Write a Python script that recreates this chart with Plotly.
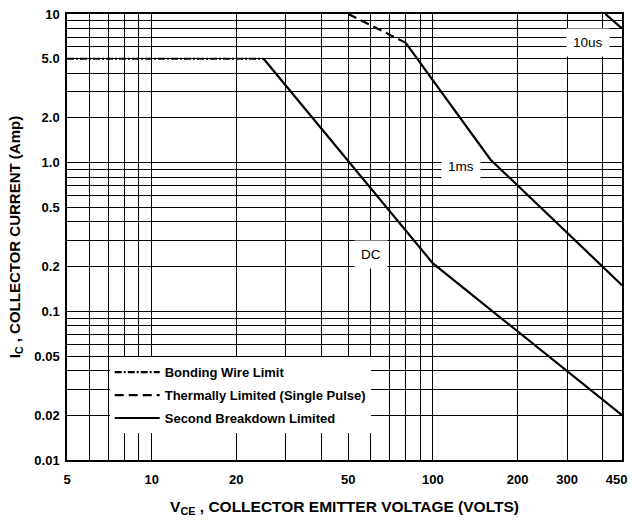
import numpy as np
import plotly.graph_objects as go

# ---- axis ticks / grid ----
x_tickvals = [5, 10, 20, 50, 100, 200, 300, 450]
x_ticktext = ["5", "10", "20", "50", "100", "200", "300", "450"]
x_gridvals = [6, 7, 8, 9, 10, 20, 30, 40, 50, 60, 70, 80, 90, 100, 200, 300, 400]
y_tickvals = [0.01, 0.02, 0.05, 0.1, 0.2, 0.5, 1, 2, 5, 10]
y_ticktext = ["0.01", "0.02", "0.05", "0.1", "0.2", "0.5", "1.0", "2.0", "5.0", "10"]
y_gridvals = [0.02, 0.03, 0.04, 0.05, 0.06, 0.07, 0.08, 0.09,
              0.1, 0.2, 0.3, 0.4, 0.5, 0.6, 0.7, 0.8, 0.9,
              1, 2, 3, 4, 5, 6, 7, 8, 9]

# ---- curves (V_CE in volts, I_C in amps) ----
dc_v = [5, 25, 100, 470]
dc_i = [5, 5, 0.21, 0.02]
ms1_v = [50, 80, 160, 470]
ms1_i = [10, 6.4, 1.05, 0.15]
us10_v = [410, 470]
us10_i = [10, 8.0]

# curve labels
label_text = ["DC", "1ms", "10us"]
label_v = [60, 126, 355]
label_i = [0.24, 0.94, 6.4]

SANS = "Liberation Sans, Arial, sans-serif"

fig = go.Figure()
lw = 2.2
fig.add_trace(go.Scatter(x=dc_v[:2], y=dc_i[:2], mode="lines", name="Bonding Wire Limit",
                         legendgroup="a",
                         line=dict(color="black", width=lw, dash="7px,2px,2px,2px")))
fig.add_trace(go.Scatter(x=ms1_v[:2], y=ms1_i[:2], mode="lines", name="Thermally Limited (Single Pulse)",
                         legendgroup="b",
                         line=dict(color="black", width=lw, dash="9px,5px")))
fig.add_trace(go.Scatter(x=dc_v[1:], y=dc_i[1:], mode="lines", name="Second Breakdown Limited",
                         legendgroup="c",
                         line=dict(color="black", width=lw)))
fig.add_trace(go.Scatter(x=ms1_v[1:], y=ms1_i[1:], mode="lines", showlegend=False,
                         legendgroup="c", line=dict(color="black", width=lw)))
fig.add_trace(go.Scatter(x=us10_v, y=us10_i, mode="lines", showlegend=False,
                         legendgroup="c", line=dict(color="black", width=lw)))

for t, v, i in zip(label_text, label_v, label_i):
    fig.add_annotation(x=np.log10(v), y=np.log10(i), text=t, showarrow=False,
                       font=dict(family=SANS, size=13.5, color="black"),
                       bgcolor="white", borderpad=6)

fig.update_xaxes(type="log", range=[np.log10(5), np.log10(470)],
                 tickmode="array", tickvals=x_tickvals, ticktext=x_ticktext,
                 showgrid=False, ticks="", ticklabelstandoff=7,
                 tickfont=dict(family=SANS, size=13, color="black", weight="bold"),
                 minor=dict(tickmode="array", tickvals=x_gridvals, showgrid=True,
                            gridcolor="black", gridwidth=1.1, ticks=""),
                 showline=True, linecolor="black", linewidth=1.5, mirror=True,
                 zeroline=False,
                 title=dict(text="V<sub>CE</sub> , COLLECTOR EMITTER VOLTAGE (VOLTS)",
                            font=dict(family=SANS, size=15.5, color="black", weight="bold"),
                            standoff=15))
fig.update_yaxes(type="log", range=[-2, 1],
                 tickmode="array", tickvals=y_tickvals, ticktext=y_ticktext,
                 showgrid=True, gridcolor="black", gridwidth=1.1, ticks="",
                 ticklabelstandoff=3,
                 tickfont=dict(family=SANS, size=13, color="black", weight="bold"),
                 minor=dict(tickmode="array", tickvals=y_gridvals, showgrid=True,
                            gridcolor="black", gridwidth=1.1, ticks=""),
                 showline=True, linecolor="black", linewidth=1.5, mirror=True,
                 zeroline=False,
                 title=dict(text="I<sub>C</sub> , COLLECTOR CURRENT (Amp)",
                            font=dict(family=SANS, size=15, color="black", weight="bold"),
                            standoff=10))

fig.update_layout(
    width=634, height=521,
    margin=dict(l=67, r=7, t=13, b=61),
    paper_bgcolor="white", plot_bgcolor="white",
    showlegend=True,
    legend=dict(x=0.077, y=0.2304, xanchor="left", yanchor="top",
                bgcolor="white", borderwidth=0, itemwidth=45,
                font=dict(family=SANS, size=13, color="black", weight="bold"),
                tracegroupgap=3),
)

fig.write_html("out.html", config={"displayModeBar": False},
               post_script="document.body.style.margin='0';")
